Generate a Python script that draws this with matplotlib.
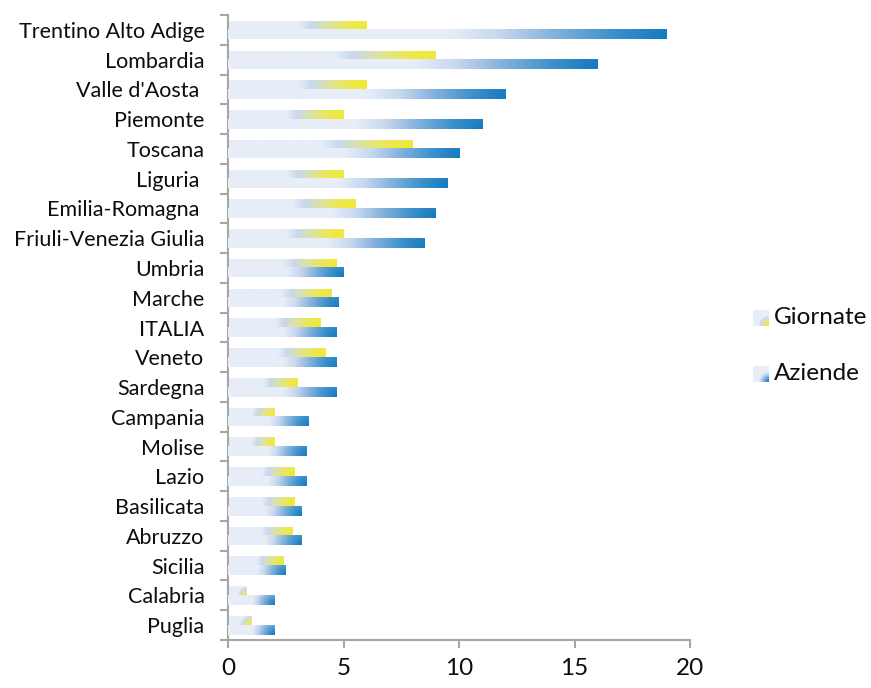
import numpy as np
import matplotlib
matplotlib.use('Agg')
from matplotlib import pyplot as plt
from matplotlib.colors import LinearSegmentedColormap

plt.rcParams['font.family'] = ['Lato', 'DejaVu Sans']

regions = ['Trentino Alto Adige', 'Lombardia', "Valle d'Aosta ", 'Piemonte', 'Toscana',
           'Liguria ', 'Emilia-Romagna ', 'Friuli-Venezia Giulia', 'Umbria', 'Marche',
           'ITALIA', 'Veneto', 'Sardegna', 'Campania', 'Molise', 'Lazio', 'Basilicata',
           'Abruzzo', 'Sicilia', 'Calabria', 'Puglia']
giornate = [6, 9, 6, 5, 8, 5, 5.5, 5, 4.7, 4.5, 4, 4.2, 3, 2, 2, 2.9, 2.9, 2.8, 2.4, 0.8, 1.0]
aziende = [19, 16, 12, 11, 10, 9.5, 9, 8.5, 5, 4.8, 4.7, 4.7, 4.7, 3.5, 3.4, 3.4, 3.2, 3.2, 2.5, 2.0, 2.0]
xticks = [0, 5, 10, 15, 20]

pale = '#e7eef8'
cm_yellow = LinearSegmentedColormap.from_list('g', [
    (0, '#f0e838'), (0.12, '#eee84a'), (0.28, '#dde3a2'), (0.40, '#c9d7ee'), (0.50, pale), (1, pale)])
cm_blue = LinearSegmentedColormap.from_list('a', [
    (0, '#137abf'), (0.12, '#3d91cc'), (0.26, '#85b3dd'), (0.38, '#c6d7ee'), (0.50, pale), (1, pale)])

W, H = 871, 688
fig = plt.figure(figsize=(W / 100, H / 100), dpi=100)
left, right, top, bottom = 228, 690, 15, 640
ax = fig.add_axes([left / W, 1 - bottom / H, (right - left) / W, (bottom - top) / H])

n = len(regions)
px_x = (right - left) / 20.0
px_y = (bottom - top) / n
bh = 0.32


def grad(length, height, cmap, nx=300, ny=24):
    a = (height * px_y) / max(length * px_x, 1e-6)
    u = np.linspace(0, 1, nx)
    v = np.linspace(0, 1, ny)
    U, V = np.meshgrid(u, v)
    d = np.sqrt((1 - U) ** 2 + (a * V) ** 2)
    return cmap(np.clip(d, 0, 1))


ypos = np.arange(n)[::-1]
for y, g, a in zip(ypos, giornate, aziende):
    yc = y + 0.13
    ax.imshow(grad(g, bh, cm_yellow), extent=(0, g, yc - bh / 2, yc + bh / 2),
              origin='lower', aspect='auto', interpolation='bilinear', zorder=2)
    yc = y - 0.16
    ax.imshow(grad(a, bh, cm_blue), extent=(0, a, yc - bh / 2, yc + bh / 2),
              origin='lower', aspect='auto', interpolation='bilinear', zorder=3)

ax.set_xlim(0, 20)
ax.set_ylim(-0.5, n - 0.5)
ax.set_aspect('auto')

gray = '#a6a6a6'
for s in ['top', 'right']:
    ax.spines[s].set_visible(False)
for s in ['left', 'bottom']:
    ax.spines[s].set_color(gray)
    ax.spines[s].set_linewidth(1.5)

ax.set_yticks(ypos)
ax.set_yticklabels(regions)
ax.set_yticks(np.arange(-0.5, n, 1.0), minor=True)
ax.tick_params(axis='y', which='major', length=0, pad=17, labelsize=15.5, labelcolor='#0d0d0d')
ax.tick_params(axis='y', which='minor', length=5.8, width=1.5, color=gray)
ax.set_xticks(xticks)
ax.tick_params(axis='x', length=5.8, width=1.5, color=gray, pad=7, labelsize=17.5, labelcolor='#0d0d0d')

# legend
for ycen, cmap, label in [(318, cm_yellow, 'Giornate'), (374, cm_blue, 'Aziende')]:
    lax = fig.add_axes([753 / W, 1 - (ycen + 8) / H, 16 / W, 16 / H])
    u = np.linspace(0, 1, 40)
    U, V = np.meshgrid(u, u)
    d = np.sqrt((1 - U) ** 2 + V ** 2)
    lax.imshow(cmap(np.clip(d * 0.75, 0, 1)), origin='lower', aspect='auto', interpolation='bilinear')
    lax.axis('off')
    fig.text(774 / W, 1 - ycen / H, label, va='center', ha='left', fontsize=17.5, color='#0d0d0d')

fig.savefig('out.png', dpi=100)
